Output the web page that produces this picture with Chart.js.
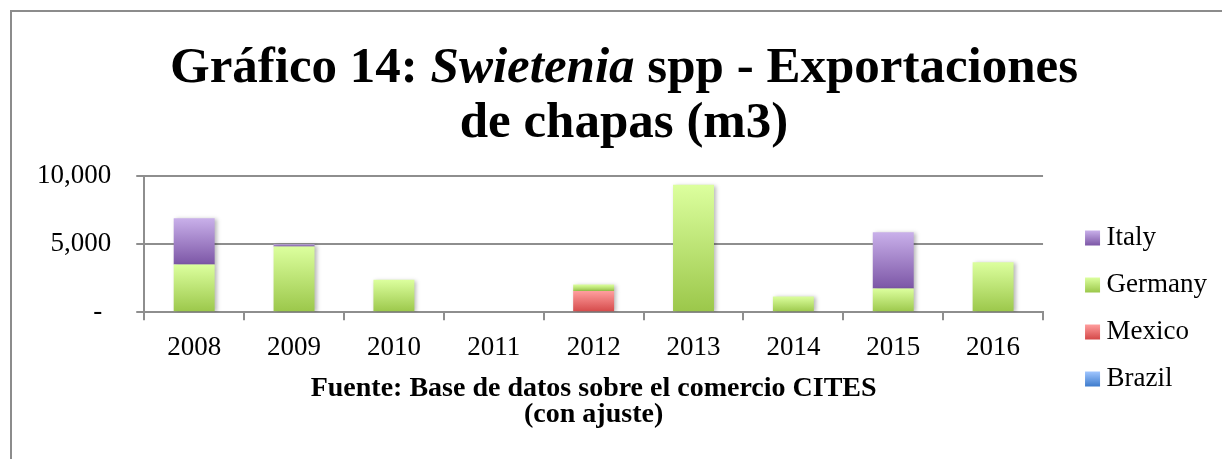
<!DOCTYPE html>
<html>
<head>
<meta charset="utf-8">
<script src="https://cdn.jsdelivr.net/npm/chart.js@4.4.0/dist/chart.umd.min.js"></script>
<style>
  html, body { margin: 0; padding: 0; background: #ffffff; }
  canvas { display: block; }
</style>
</head>
<body>
<canvas id="c" width="1222" height="459"></canvas>
<script>
// ---- data ----
const categories = ['2008', '2009', '2010', '2011', '2012', '2013', '2014', '2015', '2016'];
const brazil  = [0, 0, 0, 0, 0, 0, 0, 0, 0];
const mexico  = [0, 0, 0, 0, 1550, 0, 0, 0, 0];
const germany = [3500, 4830, 2390, 0, 480, 9350, 1160, 1740, 3670];
const italy   = [3400, 150, 0, 0, 0, 0, 0, 4130, 0];
const seriesNames = ['Brazil', 'Mexico', 'Germany', 'Italy'];
const yTickValues = [0, 5000, 10000];
const titleLine1 = [
  { text: 'Gráfico 14: ', italic: false },
  { text: 'Swietenia', italic: true },
  { text: ' spp - Exportaciones', italic: false }
];
const titleLine2 = 'de chapas (m3)';
const sourceLines = ['Fuente: Base de datos sobre el comercio CITES', '(con ajuste)'];

// ---- styles ----
const FONT = "'Liberation Serif', 'Times New Roman', serif";
const gradStops = {
  Brazil:  ['#a0c6ff', '#3d7bcc'],
  Mexico:  ['#ff9e9e', '#d44848'],
  Germany: ['#dcff9e', '#9bc74a'],
  Italy:   ['#c9b0ea', '#7c56a6']
};
const seriesValues = [brazil, mexico, germany, italy];
const GRID = '#8e8e8e';

function barFill(ctx) {
  const name = seriesNames[ctx.datasetIndex];
  const stops = gradStops[name];
  const chart = ctx.chart;
  const y = chart.scales && chart.scales.y;
  if (ctx.type !== 'data' || !y || !chart.chartArea) return stops[1];
  const i = ctx.dataIndex;
  let base = 0;
  for (let d = 0; d < ctx.datasetIndex; d++) base += seriesValues[d][i];
  const top = base + seriesValues[ctx.datasetIndex][i];
  const y0 = y.getPixelForValue(top), y1 = y.getPixelForValue(base);
  if (!isFinite(y0) || !isFinite(y1) || Math.abs(y1 - y0) < 0.5) return stops[1];
  const g = chart.ctx.createLinearGradient(0, y0, 0, y1);
  g.addColorStop(0, stops[0]);
  g.addColorStop(1, stops[1]);
  return g;
}

const framePlugin = {
  id: 'frame',
  beforeDraw(chart) {
    const c = chart.ctx;
    c.save();
    c.fillStyle = '#8c8c8c';
    c.fillRect(10, 10, 2, chart.height - 10);
    c.fillRect(10, 10, chart.width - 10, 2);
    c.restore();
  }
};

const richTitlePlugin = {
  id: 'richTitle',
  afterDraw(chart) {
    const c = chart.ctx;
    const cx = 624;
    c.save();
    c.fillStyle = '#000';
    c.textBaseline = 'middle';
    c.textAlign = 'left';
    const fN = 'bold 51px ' + FONT, fI = 'italic bold 51px ' + FONT;
    let total = 0;
    titleLine1.forEach(s => { c.font = s.italic ? fI : fN; total += c.measureText(s.text).width; });
    let x = cx - total / 2;
    titleLine1.forEach(s => { c.font = s.italic ? fI : fN; c.fillText(s.text, x, 69); x += c.measureText(s.text).width; });
    c.font = fN;
    c.textAlign = 'center';
    c.fillText(titleLine2, cx, 124);
    c.restore();
  }
};

const shadowPlugin = {
  id: 'barShadow',
  beforeDatasetsDraw(chart) {
    const c = chart.ctx;
    c.save();
    c.shadowColor = 'rgba(0,0,0,0.28)';
    c.shadowBlur = 4;
    c.shadowOffsetX = 2;
    c.shadowOffsetY = 1;
  },
  afterDatasetsDraw(chart) { chart.ctx.restore(); }
};

const legendBoxPlugin = {
  id: 'legendBoxes',
  afterDraw(chart) {
    const lg = chart.legend;
    if (!lg || !lg.legendHitBoxes) return;
    const c = chart.ctx;
    const boxH = 15, boxW = 15;
    lg.legendItems.forEach((item, k) => {
      const hb = lg.legendHitBoxes[k];
      const name = seriesNames[item.datasetIndex];
      const stops = gradStops[name];
      const top = hb.top + (hb.height - boxH) / 2;
      const g = c.createLinearGradient(0, top, 0, top + boxH);
      g.addColorStop(0, stops[0]);
      g.addColorStop(1, stops[1]);
      c.save();
      c.fillStyle = '#ffffff';
      c.fillRect(hb.left - 1, top - 1, boxW + 2, boxH + 2);
      c.fillStyle = g;
      c.fillRect(hb.left, top, boxW, boxH);
      c.restore();
    });
  }
};

const datasets = seriesNames.map((name, k) => ({
  label: name,
  data: seriesValues[k],
  backgroundColor: barFill,
  borderWidth: 0,
  barPercentage: 0.41,
  categoryPercentage: 1.0,
  stack: 's'
}));

new Chart(document.getElementById('c'), {
  type: 'bar',
  data: { labels: categories, datasets },
  plugins: [framePlugin, shadowPlugin, richTitlePlugin, legendBoxPlugin],
  options: {
    responsive: false,
    animation: false,
    devicePixelRatio: 1,
    layout: { padding: { top: 176, left: 12, right: 5, bottom: 18 } },
    plugins: {
      title: { display: false },
      tooltip: { enabled: false },
      legend: {
        display: true,
        position: 'right',
        align: 'center',
        reverse: true,
        labels: {
          boxWidth: 8,
          boxHeight: 15,
          padding: 20,
          color: '#000',
          font: { family: FONT, size: 27 }
        }
      }
    },
    scales: {
      x: {
        stacked: true,
        offset: true,
        grid: {
          display: true,
          drawOnChartArea: false,
          drawTicks: true,
          tickLength: 8,
          color: GRID,
          lineWidth: 2,
          offset: true
        },
        border: { display: true, color: GRID, width: 2 },
        ticks: { color: '#000', font: { family: FONT, size: 27 }, padding: 12, maxRotation: 0 },
        title: {
          display: true,
          text: sourceLines,
          color: '#000',
          font: { family: FONT, size: 28, weight: 'bold', lineHeight: 0.9 },
          padding: { top: 0, bottom: 14 }
        }
      },
      y: {
        stacked: true,
        min: 0,
        max: 10000,
        afterBuildTicks(scale) { scale.ticks = yTickValues.map(v => ({ value: v })); },
        grid: { color: GRID, lineWidth: 2, tickLength: 8, drawTicks: true },
        border: { display: true, color: GRID, width: 2 },
        ticks: {
          color: '#000',
          font: { family: FONT, size: 27 },
          padding: 25,
          callback: v => v === 0 ? '- \u200A' : Number(v).toLocaleString('en-US')
        }
      },
      pad: {
        type: 'linear',
        position: 'right',
        display: true,
        grid: { display: false, drawTicks: false },
        border: { display: false },
        ticks: { display: false },
        afterFit(scale) { scale.width = 22; }
      }
    }
  }
});
</script>
</body>
</html>
